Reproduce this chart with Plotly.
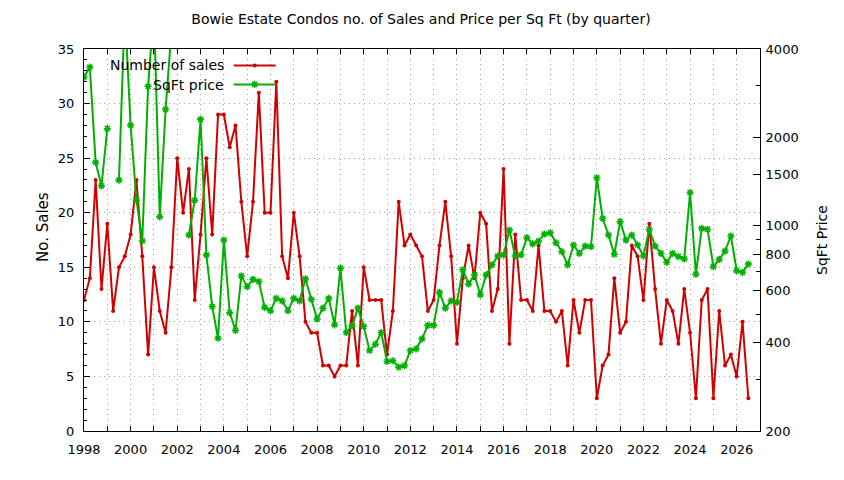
import plotly.graph_objects as go

# Quarterly data, first quarter of 1998 through Q3 2026
start_year = 1998

sales = [12, 14, 23, 13, 19, 11, 15, 16, 18, 23, 16, 7, 15, 11, 9, 15,
         25, 20, 24, 12, 18, 25, 18, 29, 29, 26, 28, 21, 16, 21, 31, 20,
         20, 32, 16, 14, 20, 16, 10, 9, 9, 6, 6, 5, 6, 6, 11, 6,
         15, 12, 12, 12, 7, 11, 21, 17, 18, 17, 16, 11, 12, 17, 21, 16,
         8, 14, 17, 14, 20, 19, 11, 13, 24, 8, 18, 12, 12, 11, 17, 11,
         11, 10, 11, 6, 12, 9, 12, 12, 3, 6, 7, 14, 9, 10, 17, 16,
         12, 19, 13, 8, 12, 11, 8, 13, 9, 3, 12, 13, 3, 11, 6, 7,
         5, 10, 3]

# price per sq ft, None = no data for that quarter
price = [3210, 3470, 1642, 1368, 2142, None, 1430, 5500,
         2198, 1222, 888, 2985, 5500, 1073, 2492, 4600,
         None, None, 930, 1222, 2304, 795, 531, 414,
         894, 506, 440, 675, 620, 657, 646, 527,
         514, 566, 555, 514, 566, 555, 659, 562,
         481, 524, 566, 460, 717, 433, 456, 524,
         454, 376, 395, 433, 345, 347, 330, 334,
         376, 381, 412, 458, 458, 593, 524, 555,
         549, 708, 634, 680, 582, 680, 736, 789,
         796, 967, 789, 796, 911, 867, 887, 937,
         946, 875, 816, 736, 860, 805, 853, 849,
         1456, 1059, 930, 800, 1033, 894, 930, 860,
         789, 972, 853, 805, 751, 805, 785, 771,
         1298, 684, 980, 972, 726, 768, 820, 923,
         703, 694, 741]

quarters = [start_year + i / 4 for i in range(len(sales))]

price_ticks = [200, 400, 600, 800, 1000, 1500, 2000, 4000]
price_minor = [300, 500, 700, 900, 3000]

RED = '#d00000'
GREEN = '#00b000'
FONT = 'DejaVu Sans'
GRID = dict(showgrid=True, gridcolor='#a0a0a0', griddash='1px,4px', gridwidth=1)

fig = go.Figure()

fig.add_trace(go.Scatter(x=quarters, y=sales, name=' ', mode='lines+markers',
                         line=dict(color=RED, width=2),
                         marker=dict(symbol='circle', size=4, color=RED)))
fig.add_trace(go.Scatter(x=quarters, y=price, name=' ', mode='lines+markers',
                         yaxis='y2', connectgaps=False,
                         line=dict(color=GREEN, width=2),
                         marker=dict(symbol='asterisk-open', size=6,
                                     line=dict(color=GREEN, width=1.5))))

# the page body adds an 8px margin top/left, so the figure is 8px smaller than the window
fig.update_layout(
    width=836, height=472,
    margin=dict(l=76, r=84, t=41, b=49),
    paper_bgcolor='white', plot_bgcolor='white',
    font=dict(family=FONT, size=13, color='black'),
    title=dict(text='Bowie Estate Condos no. of Sales and Price per Sq Ft (by quarter)',
               x=0.494, xanchor='center', y=0.977, yanchor='middle',
               font=dict(family=FONT, size=14)),
    xaxis=dict(range=[1998, 2027], dtick=2, tick0=1998, ticks='inside', ticklen=5,
               tickcolor='black', showline=True, linecolor='black', linewidth=1,
               mirror='allticks', zeroline=False, ticklabelstandoff=6, automargin=False,
               minor=dict(dtick=1, ticks='inside', ticklen=5, tickcolor='black',
                          showgrid=True, gridcolor='#a0a0a0', griddash='1px,4px'),
               **GRID),
    yaxis=dict(range=[0, 35], dtick=5, ticks='inside', ticklen=6, tickcolor='black',
               showline=True, linecolor='black', linewidth=1, zeroline=False,
               ticklabelstandoff=6, automargin=False,
               minor=dict(dtick=1, ticks='inside', ticklen=3, tickcolor='black'),
               **GRID),
    yaxis2=dict(type='log', range=[2.30103, 3.60206], overlaying='y', side='right',
                tickvals=price_ticks, ticktext=[str(v) for v in price_ticks],
                ticks='inside', ticklen=7, tickcolor='black',
                showline=True, linecolor='black', linewidth=1, showgrid=False,
                zeroline=False, ticklabelstandoff=2, automargin=False,
                minor=dict(tickvals=price_minor, ticks='inside', ticklen=4,
                           tickcolor='black', showgrid=False)),
    showlegend=True,
    legend=dict(x=0.214, y=0.995, xanchor='left', yanchor='top',
                bgcolor='rgba(0,0,0,0)', itemwidth=42, tracegroupgap=0,
                font=dict(size=11)),
    annotations=[
        dict(text='Number of sales', xref='paper', yref='paper', x=0.2097, y=0.957,
             xanchor='right', yanchor='middle', showarrow=False, font=dict(size=14)),
        dict(text='SqFt price', xref='paper', yref='paper', x=0.2097, y=0.905,
             xanchor='right', yanchor='middle', showarrow=False, font=dict(size=14)),
        dict(text='No. Sales', xref='paper', yref='paper', x=-0.0607, y=0.534,
             xanchor='center', yanchor='middle', textangle=-90, showarrow=False,
             font=dict(size=15)),
        dict(text='SqFt Price', xref='paper', yref='paper', x=1.0917, y=0.5,
             xanchor='center', yanchor='middle', textangle=-90, showarrow=False,
             font=dict(size=14)),
    ],
)

fig.write_html('out.html')
